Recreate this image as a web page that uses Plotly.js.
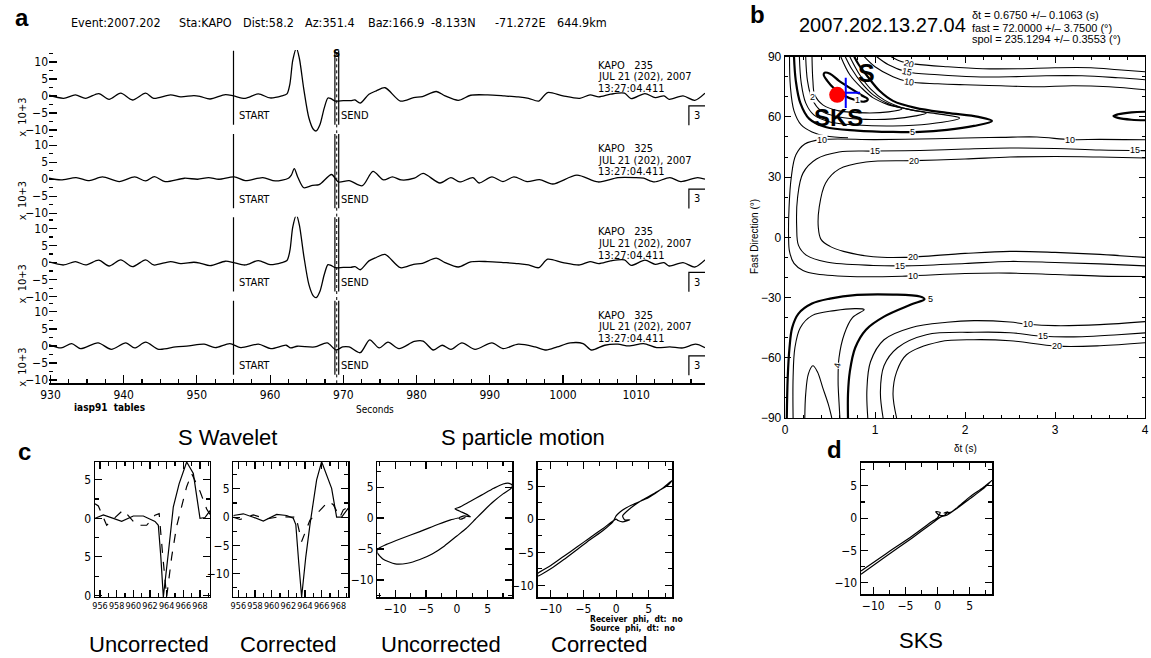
<!DOCTYPE html>
<html><head><meta charset="utf-8">
<script src="https://cdn.plot.ly/plotly-3.0.1.min.js"></script>
<style>html,body{margin:0;padding:0;background:#fff}#chart{width:1151px;height:658px}</style>
</head><body><div id="chart"></div>
<script>
// ================= DATA =================
// Panel a: seismograms (time in s, amplitude x 10^3)
const time235 = [929.8,931.8,933.4,934.8,936.6,938.0,939.6,941.2,943.0,944.1,946.4,947.8,949.6,950.5,951.8,953.9,955.0,956.6,958.4,960.0,961.6,962.3,962.7,963.1,963.6,964.0,964.6,965.3,965.9,966.3,966.8,967.4,967.9,968.3,968.9,970.0,971.0,971.6,972.3,973.5,974.5,975.7,977.8,979.6,980.8,982.7,983.9,985.7,987.4,989.7,992.0,993.9,995.3,996.7,997.9,1000.0,1002.3,1003.7,1004.9,1006.5,1008.4,1009.3,1011.2,1012.6,1013.8,1014.5,1016.4,1018.0,1019.4];
const amp235 = [0.2,-0.7,0.3,-0.7,0.7,-1.0,0.8,-1.2,0.8,-0.7,0.3,-0.3,0.1,-0.2,-0.9,0.4,0.0,-0.7,0.6,-0.6,0.0,0.6,3.5,10.5,14.0,11.0,2.0,-6.5,-9.8,-10.3,-8.5,-3.5,-0.6,-0.8,-1.5,-1.4,-1.4,-1.2,-2.1,0.5,1.5,2.4,-1.5,-0.5,-0.2,1.3,0.0,-1.3,0.2,0.3,0.0,-0.3,-0.7,-1.5,1.0,0.0,-0.7,0.3,-0.3,0.5,0.8,-0.8,0.7,-0.5,0.0,-1.0,0.0,-1.3,0.8];
const time325a = [929.8,931.45,933.5,935.3,937.1,939.4,941.5,943.0,944.2,945.65,948.3,950.1,951.6,953.0,955.1,956.6,959.0,960.7,962.5,962.9,963.3,963.8,964.6,965.8,966.7,968.4,969.3,970.8,972.6,974.05,975.5,976.7,977.9,979.7,980.9,983.2,984.7,985.9,987.7,988.55,990.3,991.8,993.3,995.1,996.8,998.6,1001.9,1004.8,1007.5,1009.85,1011.0,1012.5,1014.6,1016.1,1018.4,1019.4];
const amp325a = [0.3,-0.2,0.5,-0.4,0.7,-0.7,0.7,-0.5,0.8,-0.7,0.3,0.0,0.5,0.0,0.7,-0.4,0.5,-0.5,0.3,1.2,3.1,0.5,-2.5,-1.8,-1.6,1.4,-0.8,-0.4,-1.9,2.3,-0.2,0.7,-0.2,0.3,1.7,-1.1,0.5,-0.8,0.5,-1.1,0.7,-0.7,0.7,-0.7,-0.1,-1.4,1.2,-0.8,0.5,0.5,0.3,-0.8,0.5,-0.7,0.5,0.0];
const time325b = [929.8,931.45,932.9,934.1,936.5,938.3,940.3,941.5,943.0,944.8,947.1,948.9,951.0,952.5,954.5,956.0,958.4,960.1,962.2,962.8,963.7,966.1,967.8,969.0,969.9,970.8,972.3,973.6,974.9,976.1,977.6,979.7,980.9,982.3,983.5,984.7,986.2,988.0,990.3,991.8,993.9,996.2,997.7,999.2,1001.0,1002.75,1003.9,1005.7,1007.5,1009.0,1011.0,1012.8,1014.6,1016.4,1018.1,1019.4];
const amp325b = [0.4,-0.6,0.7,-0.8,0.9,-1.0,0.9,-0.6,1.1,-1.0,-0.3,0.0,0.5,-0.5,0.7,-0.5,0.5,-0.8,0.2,-0.6,-0.1,-0.3,0.9,-1.2,-0.3,-0.3,-2.0,1.8,-0.6,1.1,-0.8,1.3,1.4,-1.2,0.2,-1.0,0.9,-1.0,0.9,-0.8,0.5,-0.3,-1.2,-0.3,0.9,0.7,-1.2,0.2,0.5,0.0,0.7,-0.5,-0.3,-0.6,0.5,-0.5];
const bandComponents = ['235','325','235','325'];
const pickStart = 955.0;
const pickS = [968.85, 969.1, 969.37];   // solid, dotted, solid
const titleParts = ['Event:2007.202','Sta:KAPO','Dist:58.2','Az:351.4','Baz:166.9','-8.133N','-71.272E','644.9km'];
const xTicksA = [930,940,950,960,970,980,990,1000,1010];

// Panel b: splitting result and misfit contours ([dt, phi] pairs)
const bestDt = 0.675, bestDtErr = 0.1063, bestFast = 72.0, bestFastErr = 3.75;
const sksPoint = [0.58, 71];
const statLines = ['\u03b4t = 0.6750 +/\u2013 0.1063 (s)','fast = 72.0000 +/\u2013 3.7500 (\u00b0)','spol = 235.1294 +/\u2013 0.3553 (\u00b0)'];
const top20 = [[1.18,90],[1.3,87.5],[1.45,86.3],[1.8,85],[2.2,84],[2.6,84],[3.0,84.5],[3.4,84.5],[3.7,83.5],[4.0,82.5]];
const top15 = [[1.02,90],[1.15,86],[1.35,82.5],[1.7,81],[2.1,80],[2.5,80],[2.9,80.5],[3.3,80.5],[3.7,79.5],[4.0,78.5]];
const top10 = [[0.88,90],[1.0,85],[1.2,80],[1.37,77.5],[1.7,76.5],[2.0,76],[2.4,75.5],[2.8,75],[3.2,75.5],[3.6,75],[4.0,73.5]];
const loop5 = [[0.10,90],[0.12,78],[0.17,67],[0.27,59],[0.45,55],[0.8,53.2],[1.2,52.5],[1.5,52.5],[1.8,53.5],[2.1,55.5],[2.3,58],[2.15,60],[1.8,62],[1.45,64.5],[1.2,68],[1.05,73],[0.92,80],[0.82,86],[0.77,90]];
const loop4 = [[0.16,90],[0.18,77],[0.23,67],[0.32,61],[0.5,57.5],[0.8,56],[1.2,55.5],[1.6,56.5],[1.94,59.5],[1.7,61.5],[1.35,64],[1.1,68.5],[0.95,74],[0.83,81],[0.72,90]];
const loop3 = [[0.23,90],[0.25,78],[0.3,69],[0.4,63],[0.6,60],[0.9,58.8],[1.2,59],[1.45,60.5],[1.57,62],[1.4,63.5],[1.15,66.5],[0.98,71],[0.85,77],[0.74,84],[0.67,90]];
const loop2 = [[0.3,90],[0.31,78],[0.33,71],[0.42,66],[0.6,63],[0.9,62],[1.15,62.5],[1.3,64],[1.15,66],[0.98,69.5],[0.85,74.5],[0.72,81],[0.62,90]];
const ellipse1 = [[0.44,82],[0.5,81.5],[0.6,78],[0.72,74.5],[0.85,70.8],[0.92,68.8],[0.88,67.6],[0.78,68.4],[0.65,70.8],[0.55,74],[0.47,78],[0.43,81],[0.44,82]];
const upperLeft10 = [[0.05,90],[0.06,75],[0.1,63],[0.18,56],[0.3,52.5],[0.45,50.5],[0.7,49.6]];
const rightPocket5 = [[4.05,62.6],[3.85,62.3],[3.7,61.3],[3.65,60.4],[3.7,59.5],[3.85,58.6],[4.05,58.3]];
const mid10 = [[4,48.6],[3.5,48.8],[3.17,48.7],[2.8,50],[2.4,49.8],[2.0,49.5],[1.5,49],[1.0,48.7],[0.41,48.7],[0.22,46.5],[0.12,41],[0.07,30],[0.045,15],[0.04,0],[0.05,-7],[0.1,-13],[0.2,-16.5],[0.35,-18.3],[0.8,-19.6],[1.34,-19.3],[2.0,-18],[2.5,-17.8],[3.0,-18.5],[3.5,-19.3],[4,-19.5]];
const mid15 = [[4,43.2],[3.5,43.5],[3.0,44.3],[2.5,44.5],[2.0,44],[1.5,43.3],[1.0,43],[0.6,42.5],[0.35,39],[0.2,32],[0.14,20],[0.13,5],[0.15,-4],[0.24,-9],[0.46,-12.3],[0.98,-14],[1.33,-14.2],[2.0,-13],[2.5,-12],[3.0,-12.5],[3.5,-13.2],[4,-14.2]];
const mid20 = [[4,39.5],[3.5,40],[3.0,40.3],[2.5,40],[2.0,39],[1.43,38.2],[0.9,37.5],[0.6,34],[0.45,27],[0.38,15],[0.37,5],[0.4,-1],[0.5,-4.5],[0.65,-7],[0.98,-9.7],[1.33,-10],[2.0,-8],[2.5,-7],[3.0,-7.5],[3.5,-8.5],[4,-10]];
const lower5 = [[0.02,-90],[0.03,-70],[0.05,-55],[0.08,-45],[0.15,-38],[0.3,-33],[0.5,-30.5],[0.8,-28.7],[1.2,-28.5],[1.5,-29.5],[1.55,-30.8],[1.4,-33.5],[1.1,-39.5],[0.9,-46],[0.78,-55],[0.72,-67],[0.7,-78],[0.7,-90]];
const lower4 = [[0.09,-90],[0.09,-70],[0.11,-55],[0.17,-45],[0.3,-39],[0.55,-36.5],[0.78,-35.5],[0.88,-36],[0.75,-40],[0.66,-48],[0.6,-60],[0.59,-72],[0.6,-82],[0.61,-90]];
const lowerCap = [[0.22,-90],[0.23,-78],[0.26,-68],[0.31,-64],[0.36,-67],[0.42,-75],[0.48,-83],[0.52,-90]];
const lower10 = [[0.92,-90],[0.91,-76],[0.95,-62],[1.1,-51],[1.4,-45],[1.8,-42.3],[2.1,-41.5],[2.5,-42.2],[2.7,-43.3],[3.0,-44],[3.5,-43.5],[4,-42]];
const lower15 = [[1.09,-90],[1.06,-77],[1.1,-64],[1.25,-55],[1.57,-48.5],[2.1,-47.3],[2.5,-47.5],[2.87,-49.3],[3.3,-49.5],[3.7,-48.5],[4,-47.6]];
const lower20 = [[1.24,-90],[1.2,-78],[1.24,-67],[1.35,-58.5],[1.72,-52],[2.1,-51],[2.5,-51.5],[3.02,-54.2],[3.5,-54],[4,-52.5]];
const contourLabels = [['20',1.38,86.6,15],['15',1.36,82.6,12],['10',1.38,77.4,8],['5',1.42,52.5,0],['2',0.3,70,0],['1',0.8,68.2,0],
  ['10',0.41,48.7,0],['15',1.0,43,0],['20',1.43,38.2,0],['10',3.17,48.7,0],['15',3.89,43.3,0],
  ['20',1.42,-10,0],['15',1.28,-14.2,0],['10',1.42,-19.3,0],['5',1.62,-30.6,0],['4',0.58,-64,-80],
  ['10',2.7,-43.3,0],['15',2.87,-49.3,0],['20',3.02,-54.2,0]];

// Panel c: S wavelets (time, amplitude)
const waveUncSolidT = [955.4,956.4,957.6,958.6,960.0,961.2,962.6,963.0,963.3,963.6,964.2,964.8,965.5,966.4,967.2,968.0,968.6,969.2];
const waveUncSolidA = [0.0,0.45,0.0,-0.4,0.3,0.3,-0.4,-0.9,-5.0,-10.2,-4.5,1.5,4.5,7.3,5.8,0.0,0.1,1.0];
const waveUncDashT = [955.4,955.8,956.8,958.8,960.4,961.6,962.6,963.1,963.5,964.0,964.6,965.2,966.4,967.0,968.0,968.8,969.2];
const waveUncDashA = [1.9,1.6,-0.9,1.1,-0.9,-0.9,0.4,0.6,-4.5,-10.2,-5.0,-1.0,4.1,5.8,3.5,1.2,0.5];
const waveCorSolidT = [955.4,956.6,957.8,959.0,960.6,961.8,962.6,962.9,963.25,963.6,964.1,964.6,965.4,966.0,967.2,967.8,968.4,969.2];
const waveCorSolidA = [0.3,0.6,0.0,-0.7,0.5,0.3,-0.2,-1.3,-8.0,-14.1,-7.0,-1.3,6.6,9.8,5.1,0.0,0.0,1.6];
const waveCorDashT = [955.4,956.2,957.8,959.4,961.0,962.6,962.9,963.6,964.6,965.8,966.8,967.4,968.2,968.6,969.2];
const waveCorDashA = [0.0,-0.4,0.4,-0.3,0.1,0.0,0.2,-4.3,-0.5,1.2,2.8,2.2,0.0,1.3,1.8];
// Panel c/d: particle motion ([x, y] pairs)
const pmUncorrected = [[0.2,0.0],[-1,-0.3],[-3,-1.0],[-6,-2.2],[-9,-3.3],[-11.5,-4.3],[-12.8,-5.0],[-12.9,-5.6],[-12,-6.6],[-10,-7.4],[-8,-7.3],[-6,-6.7],[-4,-5.8],[-2,-4.5],[0,-2.9],[1.5,-1.7],[3,-0.2],[4.5,1.3],[6,2.7],[7.5,3.9],[8.8,4.8],[9.0,5.3],[8.5,5.6],[7.5,5.5],[6,4.8],[4,3.7],[2,2.6],[0.3,1.7],[-0.3,1.5],[0.5,1.1],[1.8,0.5],[2.2,0.2],[1.2,0.35],[0.3,0.0],[0.6,-0.2],[1.4,0.1]];
const pmCorrected = [[0,0],[-2,-1.4],[-4,-2.8],[-6,-4.2],[-8,-5.6],[-10,-7.0],[-12,-8.2],[-12,-8.6],[-10,-7.5],[-8,-6.1],[-6,-4.6],[-4,-3.1],[-2,-1.7],[-0.5,-0.4],[0,0.5],[0.6,1.1],[1.5,1.7],[3,2.4],[5,3.3],[7,4.6],[8.6,5.9],[8.0,5.2],[6,4.0],[4,2.9],[2,1.5],[1.0,0.5],[1.3,-0.1],[2.1,-0.1],[1.0,-0.4],[0.3,-0.2],[0,0]];
const pmSKS = [[-11.9,-8.2],[-8,-5.5],[-4,-2.8],[-1,-0.6],[0,0.1],[0.4,0.9],[-0.3,1.0],[0.2,0.5],[1.0,0.4],[1.6,1.0],[1.0,0.8],[2,0.9],[3,1.6],[5,3.3],[7,4.7],[8.5,5.9],[7,4.5],[5,3.0],[3,1.5],[1.5,0.5],[0.5,0.2],[-1,-0.9],[-4,-3.1],[-8,-5.9],[-11.9,-8.7]];

// ================= DRAWING =================
const W = 1151, H = 658;
const PX = v => v / W, PY = v => 1 - v / H;
const NARROW = "'Liberation Sans Narrow', 'DejaVu Sans Condensed', 'Arial Narrow', 'Liberation Sans', sans-serif";
const SANS = "'Liberation Sans', Arial, Helvetica, sans-serif";
const traces = [], annotations = [], shapes = [];
const layout = {width: W, height: H, margin: {l:0, r:0, t:0, b:0}, paper_bgcolor: 'white', plot_bgcolor: 'white',
  showlegend: false, font: {family: SANS, color: 'black'}};

function pann(text, x, y, o) {
  o = o || {};
  annotations.push({text: text, x: PX(x), y: PY(y), xref: 'paper', yref: 'paper', showarrow: false,
    xanchor: o.xa || 'center', yanchor: 'middle', textangle: o.angle || 0,
    font: {family: o.family || SANS, size: o.size || 12, color: 'black'}});
}
const boldFont = t => '<b>' + t + '</b>';

// ---- Panel a ----
const bandTop = [50, 133.33, 216.67, 300], bandH = 83.33;
const bandData = [[time235, amp235], [time325a, amp325a], [time235, amp235], [time325b, amp325b]];
layout.xaxis = {domain: [PX(49), PX(705)], range: [929.8, 1019.4], anchor: 'y4', tickmode: 'array', tickvals: xTicksA,
  ticks: 'inside', ticklen: 8, tickwidth: 1.2, tickcolor: 'black',
  minor: {tick0: 930, dtick: 2.5, ticks: 'inside', ticklen: 4, tickwidth: 1.2, tickcolor: 'black'},
  showline: true, linecolor: 'black', linewidth: 1.4, showgrid: false, zeroline: false,
  tickfont: {family: NARROW, size: 12}};
bandData.forEach((d, i) => {
  const yk = i === 0 ? 'yaxis' : 'yaxis' + (i + 1);
  const yr = i === 0 ? 'y' : 'y' + (i + 1);
  layout[yk] = {domain: [PY(bandTop[i] + bandH), PY(bandTop[i])], range: [-11, 13.5], anchor: 'x',
    tickmode: 'array', tickvals: [-10, -5, 0, 5, 10], ticks: 'inside', ticklen: 8, tickwidth: 1.2, tickcolor: 'black',
    minor: {tick0: 0, dtick: 2.5, ticks: 'inside', ticklen: 4, tickwidth: 1.2, tickcolor: 'black'},
    showline: false, showgrid: false, zeroline: false, tickfont: {family: NARROW, size: 12}};
  traces.push({x: d[0], y: d[1], xaxis: 'x', yaxis: yr, type: 'scatter', mode: 'lines',
    line: {color: 'black', width: 1.3, shape: 'spline', smoothing: 0.8}, hoverinfo: 'skip'});
  shapes.push({type: 'line', xref: 'x', yref: yr, x0: pickStart, x1: pickStart, y0: -8.5, y1: 13.3, line: {color: 'black', width: 1.2}});
  shapes.push({type: 'line', xref: 'x', yref: yr, x0: pickS[0], x1: pickS[0], y0: -8.5, y1: 13.3, line: {color: 'black', width: 1.2}});
  shapes.push({type: 'line', xref: 'x', yref: yr, x0: pickS[1], x1: pickS[1], y0: -11, y1: 13.5, line: {color: 'black', width: 1, dash: 'dot'}});
  shapes.push({type: 'line', xref: 'x', yref: yr, x0: pickS[2], x1: pickS[2], y0: -8.5, y1: 13.3, line: {color: 'black', width: 1.2}});
  shapes.push({type: 'path', xref: 'x', yref: yr, path: 'M 1017.2 -8.6 L 1017.2 -2.9 L 1019.4 -2.9', line: {color: 'black', width: 1.2}});
  const nf = {family: NARROW, size: 11, color: 'black'};
  annotations.push({text: 'START', x: pickStart + 0.5, y: -5.9, xref: 'x', yref: yr, showarrow: false, xanchor: 'left', font: nf});
  annotations.push({text: 'SEND', x: pickS[2] + 0.05, y: -5.9, xref: 'x', yref: yr, showarrow: false, xanchor: 'left', font: nf});
  annotations.push({text: '3', x: 1018.3, y: -5.8, xref: 'x', yref: yr, showarrow: false, font: nf});
  ['KAPO   ' + bandComponents[i], 'JUL 21 (202), 2007', '13:27:04.411'].forEach((t, k) => {
    annotations.push({text: t, x: 1004.5, y: [9.0, 5.6, 2.2][k], xref: 'x', yref: yr, showarrow: false, xanchor: 'left', font: nf});
  });
  annotations.push({text: 'x  10+3', x: PX(14), y: -6.3, xref: 'paper', yref: yr, showarrow: false, textangle: -90, font: nf});
});
annotations.push({text: '<b>S</b>', x: pickS[1], y: 12.6, xref: 'x', yref: 'y', showarrow: false, font: {family: NARROW, size: 11}});
pann(boldFont('a'), 22, 18, {size: 24});
const titleX = [69, 177, 241, 303, 366, 429, 493, 555];
titleParts.forEach((t, k) => pann(t, titleX[k], 22, {xa: 'left', family: NARROW, size: 12.5}));
pann(boldFont('iasp91  tables'), 72, 407, {xa: 'left', family: NARROW, size: 10});
pann('Seconds', 375, 409, {family: NARROW, size: 10});

// ---- Panel b ----
layout.xaxis2 = {domain: [PX(785), PX(1145)], range: [0, 4], anchor: 'y5', dtick: 1, tick0: 0,
  ticks: 'inside', ticklen: 6, tickwidth: 1, tickcolor: 'black',
  minor: {dtick: 0.2, ticks: 'inside', ticklen: 3, tickcolor: 'black'},
  showline: true, mirror: 'ticks', linecolor: 'black', linewidth: 1.3, showgrid: false, zeroline: false,
  tickfont: {family: SANS, size: 12}};
layout.yaxis5 = {domain: [PY(418), PY(56.7)], range: [-90, 90], anchor: 'x2', dtick: 30, tick0: 0,
  ticks: 'inside', ticklen: 6, tickwidth: 1, tickcolor: 'black',
  minor: {dtick: 10, ticks: 'inside', ticklen: 3, tickcolor: 'black'},
  showline: true, mirror: 'ticks', linecolor: 'black', linewidth: 1.3, showgrid: false, zeroline: false,
  tickfont: {family: SANS, size: 12}};
const thinC = [top20, top15, top10, loop4, loop3, loop2, upperLeft10, mid10, mid15, mid20, lower4, lowerCap, lower10, lower15, lower20];
const thickC = [loop5, ellipse1, rightPocket5, lower5];
thinC.forEach(c => traces.push({x: c.map(p => p[0]), y: c.map(p => p[1]), xaxis: 'x2', yaxis: 'y5', type: 'scatter', mode: 'lines',
  line: {color: 'black', width: 1.1, shape: 'spline', smoothing: 1}, hoverinfo: 'skip'}));
thickC.forEach(c => traces.push({x: c.map(p => p[0]), y: c.map(p => p[1]), xaxis: 'x2', yaxis: 'y5', type: 'scatter', mode: 'lines',
  line: {color: 'black', width: 2.2, shape: 'spline', smoothing: 1}, hoverinfo: 'skip'}));
contourLabels.forEach(l => annotations.push({text: l[0], x: l[1], y: l[2], xref: 'x2', yref: 'y5', showarrow: false,
  textangle: l[3], bgcolor: 'white', borderpad: 0, font: {family: SANS, size: 9, color: 'black'}}));
traces.push({x: [bestDt, bestDt], y: [bestFast - 2 * bestFastErr, bestFast + 2 * bestFastErr], xaxis: 'x2', yaxis: 'y5', type: 'scatter', mode: 'lines', line: {color: '#0000ff', width: 2}, hoverinfo: 'skip'});
traces.push({x: [bestDt - 1.5 * bestDtErr, bestDt + 1.5 * bestDtErr], y: [bestFast, bestFast], xaxis: 'x2', yaxis: 'y5', type: 'scatter', mode: 'lines', line: {color: '#0000ff', width: 2}, hoverinfo: 'skip'});
traces.push({x: [sksPoint[0]], y: [sksPoint[1]], xaxis: 'x2', yaxis: 'y5', type: 'scatter', mode: 'markers', marker: {color: '#ff0000', size: 16}, hoverinfo: 'skip'});
annotations.push({text: '<b>S</b>', x: 0.906, y: 82.1, xref: 'x2', yref: 'y5', showarrow: false, font: {family: SANS, size: 25}});
annotations.push({text: '<b>SKS</b>', x: 0.59, y: 59.9, xref: 'x2', yref: 'y5', showarrow: false, font: {family: SANS, size: 24}});
pann(boldFont('b'), 757, 14, {size: 24});
pann('2007.202.13.27.04', 882, 25, {size: 20});
statLines.forEach((t, k) => pann(t, 970, 15.5 + 12 * k, {xa: 'left', size: 11}));
pann('Fast Direction (\u00b0)', 755, 237, {size: 10, angle: -90});
pann('\u03b4t (s)', 965, 448, {size: 10});

// ---- Panel c & d boxes ----
function boxAxes(xk, yk, xr, yr, xdom, ydom, xopt, yopt) {
  const common = {ticks: 'inside', ticklen: 7, tickwidth: 1.1, tickcolor: 'black', showline: true, mirror: 'ticks',
    linecolor: 'black', linewidth: 1.4, showgrid: false, zeroline: false, tickfont: {family: NARROW, size: 12}};
  layout[xk] = Object.assign({}, common, {domain: [PX(xdom[0]), PX(xdom[1])], range: xr, anchor: 'y' + yk.replace('yaxis', '')}, xopt);
  layout[yk] = Object.assign({}, common, {domain: [PY(ydom[1]), PY(ydom[0])], range: yr, anchor: 'x' + xk.replace('xaxis', '')}, yopt);
}
const waveX = {tick0: 956, dtick: 2, tickangle: 0, minor: {dtick: 1, ticks: 'inside', ticklen: 4, tickcolor: 'black'}, tickfont: {family: NARROW, size: 9}};
const pmTick = {tick0: 0, dtick: 5, minor: {dtick: 2.5, ticks: 'inside', ticklen: 4, tickcolor: 'black'}};
boxAxes('xaxis3', 'yaxis6', [955.4, 969.2], [-10.2, 7.3], [95, 210], [462, 597], waveX,
  {tickmode: 'array', tickvals: [-10, -5, 0, 5], ticktext: ['0', '5', '0', '5'], minor: {tick0: 0, dtick: 2.5, ticks: 'inside', ticklen: 4, tickcolor: 'black'}});
boxAxes('xaxis4', 'yaxis7', [955.4, 969.2], [-14.1, 9.75], [233.3, 348.3], [462, 597], waveX, pmTick);
boxAxes('xaxis5', 'yaxis8', [-12.9, 9.0], [-12.8, 9.0], [377.3, 512.3], [462.3, 597.3], pmTick, pmTick);
boxAxes('xaxis6', 'yaxis9', [-12.0, 8.6], [-11.8, 8.6], [537.7, 672.3], [462.3, 597.3], pmTick, pmTick);
boxAxes('xaxis7', 'yaxis10', [-11.9, 8.5], [-11.8, 8.6], [861, 992.3], [462.7, 594.3], pmTick, pmTick);

function line(x, y, xa, ya, dash) {
  traces.push({x: x, y: y, xaxis: xa, yaxis: ya, type: 'scatter', mode: 'lines',
    line: {color: 'black', width: 1.2, dash: dash || 'solid'}, hoverinfo: 'skip'});
}
line(waveUncSolidT, waveUncSolidA, 'x3', 'y6');
line(waveUncDashT, waveUncDashA, 'x3', 'y6', 'dash');
line(waveCorSolidT, waveCorSolidA, 'x4', 'y7');
line(waveCorDashT, waveCorDashA, 'x4', 'y7', 'dash');
[[pmUncorrected, 'x5', 'y8'], [pmCorrected, 'x6', 'y9'], [pmSKS, 'x7', 'y10']].forEach(p => {
  traces.push({x: p[0].map(q => q[0]), y: p[0].map(q => q[1]), xaxis: p[1], yaxis: p[2], type: 'scatter', mode: 'lines',
    line: {color: 'black', width: 1.2, shape: 'spline', smoothing: 0.6}, hoverinfo: 'skip'});
});
pann(boldFont('c'), 24, 451, {size: 24});
pann('S Wavelet', 227, 437, {size: 22});
pann('S particle motion', 523, 437, {size: 22});
pann('Uncorrected', 148.5, 644, {size: 22});
pann('Corrected', 288.5, 644, {size: 22});
pann('Uncorrected', 441.5, 644, {size: 22});
pann('Corrected', 599, 644, {size: 22});
pann(boldFont('Receiver  phi,  dt:  no'), 588, 619, {xa: 'left', family: NARROW, size: 8.5});
pann(boldFont('Source  phi,  dt:  no'), 588, 627.5, {xa: 'left', family: NARROW, size: 8.5});
pann(boldFont('d'), 834, 449, {size: 24});
pann('SKS', 921, 640, {size: 22});

layout.annotations = annotations;
layout.shapes = shapes;
Plotly.newPlot('chart', traces, layout, {staticPlot: true, displayModeBar: false});
</script>
</body></html>
